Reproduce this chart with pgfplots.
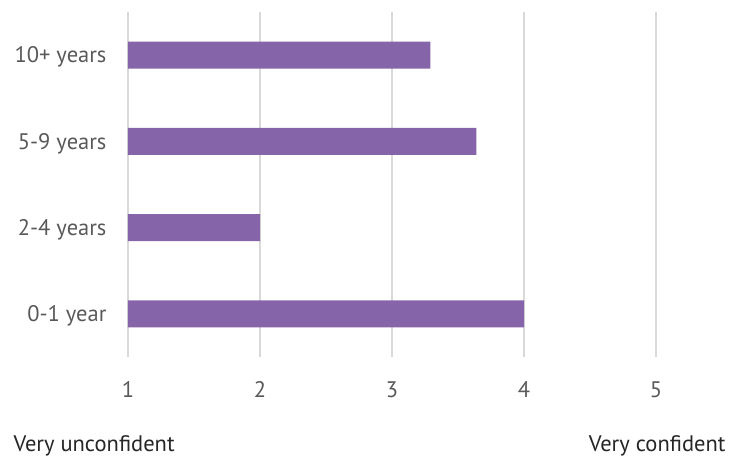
\documentclass[border=0pt]{standalone}
\usepackage{fontspec}
\setmainfont{PT Sans}
\usepackage{pgfplots}
\pgfplotsset{compat=1.18}
\definecolor{barpurple}{HTML}{8664A9}
\definecolor{gridgrey}{HTML}{D9D9D9}
\definecolor{labelgrey}{HTML}{595959}
\begin{document}
\begin{tikzpicture}
\useasboundingbox (-128pt,-100pt) rectangle (602pt,357pt);
\begin{axis}[
  at={(0,0)}, anchor=south west,
  scale only axis,
  width=528pt, height=345pt,
  xbar, bar width=27pt,
  xmin=1, xmax=5,
  ymin=-0.5, ymax=3.5,
  xtick={1,2,3,4,5},
  ytick={0,1,2,3},
  yticklabels={0-1 year,2-4 years,5-9 years,10+ years},
  axis line style={draw=none},
  major tick length=0pt,
  xmajorgrids,
  grid style={gridgrey, line width=1.3pt},
  ticklabel style={font=\fontsize{22.5}{26}\selectfont, text=labelgrey},
  /pgf/number format/assume math mode=true,
  xticklabel style={yshift=-21pt},
  yticklabel style={xshift=-18pt, yshift=-2pt},
  clip=false,
]
\addplot[fill=barpurple, draw=none] coordinates {
  (4.00,0) (2.00,1) (3.64,2) (3.29,3)
};
\end{axis}
\node[anchor=west, font=\fontsize{22.5}{26}\selectfont, text=black!85] at (-118pt,-89pt) {Very unconfident};
\node[anchor=east, font=\fontsize{22.5}{26}\selectfont, text=black!85] at (601pt,-89pt) {Very confident};
\end{tikzpicture}
\end{document}
